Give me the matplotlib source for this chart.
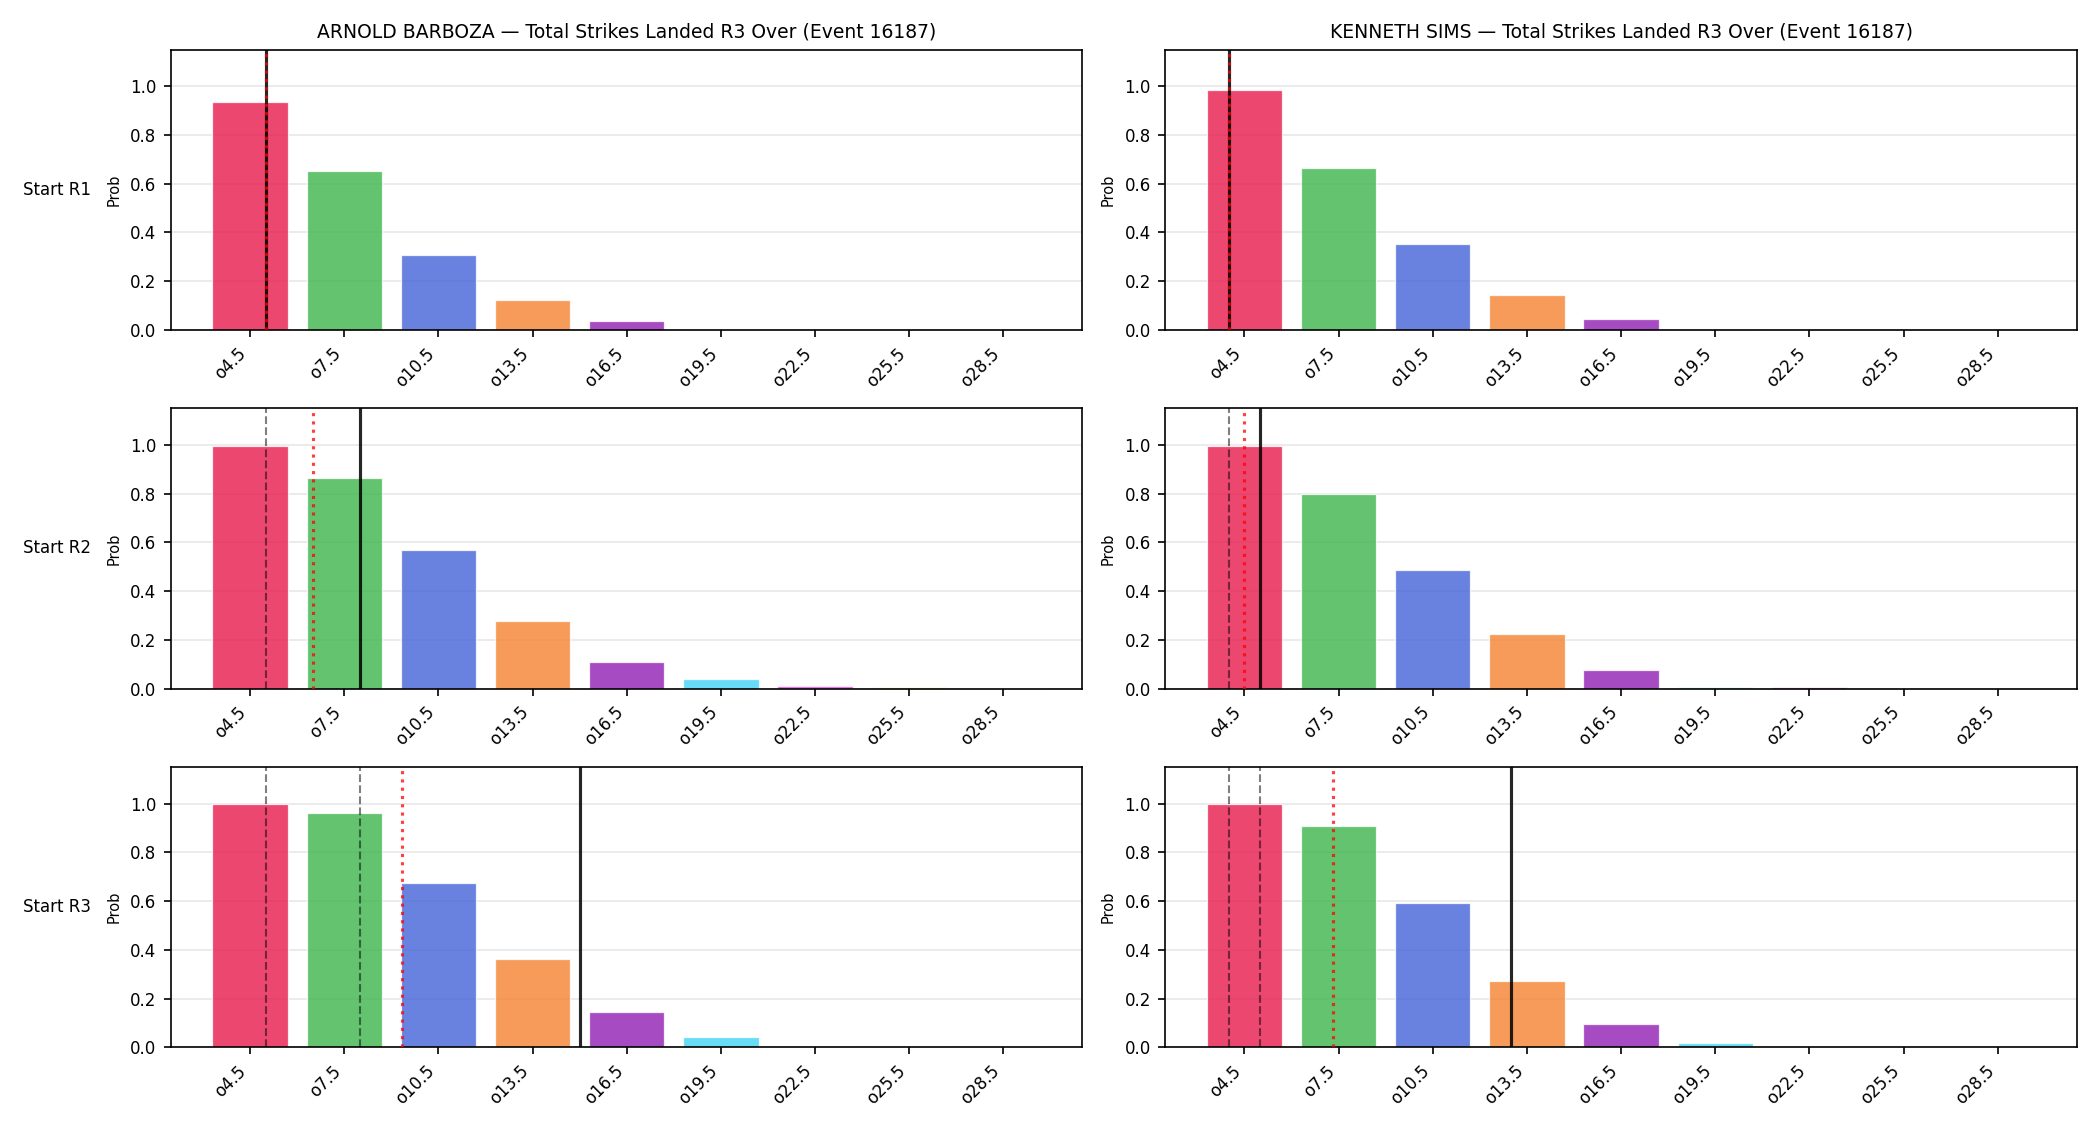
import numpy as np
import matplotlib
matplotlib.use("Agg")
import matplotlib.pyplot as plt

# -------------------------------
# DATA
# -------------------------------
lines = [4.5, 7.5, 10.5, 13.5, 16.5, 19.5, 22.5, 25.5, 28.5]
tick_labels = [f"o{x}" for x in lines]
starts = ["Start R1", "Start R2", "Start R3"]
fighters = ["ARNOLD BARBOZA", "KENNETH SIMS"]

barboza_r1 = [0.936, 0.652, 0.307, 0.122, 0.037, 0.003, 0.001, 0.0, 0.0]
barboza_r2 = [0.997, 0.862, 0.568, 0.278, 0.109, 0.040, 0.011, 0.006, 0.001]
barboza_r3 = [0.997, 0.960, 0.673, 0.362, 0.145, 0.042, 0.005, 0.004, 0.004]

sims_r1 = [0.985, 0.664, 0.352, 0.142, 0.044, 0.003, 0.002, 0.0, 0.0]
sims_r2 = [0.997, 0.800, 0.486, 0.224, 0.076, 0.005, 0.006, 0.0, 0.0]
sims_r3 = [0.997, 0.907, 0.592, 0.272, 0.096, 0.018, 0.005, 0.0, 0.0]

# strikes already landed at each start (solid), earlier starts (dashed), projection (dotted)
barboza_current = [5, 8, 15]
sims_current = [4, 5, 13]
barboza_proj = [5, 6.5, 9.35]
sims_proj = [4, 4.5, 7.33]

probs = {
    "ARNOLD BARBOZA": [barboza_r1, barboza_r2, barboza_r3],
    "KENNETH SIMS": [sims_r1, sims_r2, sims_r3],
}
current = {"ARNOLD BARBOZA": barboza_current, "KENNETH SIMS": sims_current}
proj = {"ARNOLD BARBOZA": barboza_proj, "KENNETH SIMS": sims_proj}

colors = ["#e6194b", "#3cb44b", "#4363d8", "#f58231", "#911eb4",
          "#42d4f4", "#f032e6", "#bfef45", "#fabed4"]

# -------------------------------
# PLOT
# -------------------------------
fig, axes = plt.subplots(3, 2, figsize=(14, 7.5), dpi=150)
fig.subplots_adjust(left=0.0814, right=0.989, top=0.956, bottom=0.069,
                    wspace=0.091, hspace=0.28)

for col, name in enumerate(fighters):
    for row, start in enumerate(starts):
        ax = axes[row, col]
        ax.bar(lines, probs[name][row], width=2.4, color=colors, alpha=0.8,
               edgecolor="white", linewidth=0.6, zorder=2)
        for prev in current[name][:row]:
            ax.axvline(prev, color="black", linestyle="--", linewidth=1, alpha=0.5, zorder=3)
        ax.axvline(current[name][row], color="black", linewidth=1.5, alpha=0.85, zorder=3)
        ax.axvline(proj[name][row], color="red", linestyle=":", linewidth=1.5, alpha=0.75, zorder=4)
        ax.set_ylim(0, 1.15)
        ax.set_xticks(lines)
        ax.set_xticklabels(tick_labels, rotation=45, ha="right", fontsize=8)
        ax.tick_params(axis="y", labelsize=8)
        ax.set_ylabel("Prob", fontsize=7)
        ax.grid(axis="y", alpha=0.3, zorder=0)
        ax.set_axisbelow(True)
        if row == 0:
            ax.set_title(f"{name} — Total Strikes Landed R3 Over (Event 16187)", fontsize=9)
        if col == 0:
            ax.text(-0.088, 0.5, start, transform=ax.transAxes, ha="right",
                    va="center", fontsize=8)

plt.savefig("out.png")
